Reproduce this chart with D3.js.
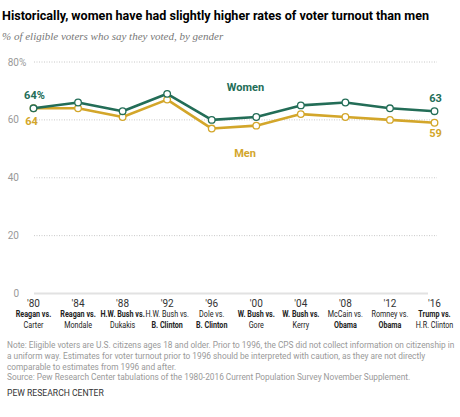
<!DOCTYPE html>
<html>
<head>
<meta charset="utf-8">
<script src="https://cdn.jsdelivr.net/npm/d3@7"></script>
<style>
  body { margin: 0; background: #fff; }
  svg { display: block; }
</style>
</head>
<body>
<svg id="chart" width="460" height="417"></svg>
<script>
// Election years and candidate pairs (winner in bold)
const years = ["'80", "'84", "'88", "'92", "'96", "'00", "'04", "'08", "'12", "'16"];
const matchups = [
    [["Reagan vs.", true], ["Carter", false]],
    [["Reagan vs.", true], ["Mondale", false]],
    [["H.W. Bush vs.", true], ["Dukakis", false]],
    [["H.W. Bush vs.", false], ["B. Clinton", true]],
    [["Dole vs.", false], ["B. Clinton", true]],
    [["W. Bush vs.", true], ["Gore", false]],
    [["W. Bush vs.", true], ["Kerry", false]],
    [["McCain vs.", false], ["Obama", true]],
    [["Romney vs.", false], ["Obama", true]],
    [["Trump vs.", true], ["H.R. Clinton", false]]
];
const women = [64, 66, 63, 69, 60, 61, 65, 66, 64, 63];
const men = [64, 64, 61, 67, 57, 58, 62, 61, 60, 59];
const yTicks = [0, 20, 40, 60, 80];

const notes = [
    "Note: Eligible voters are U.S. citizens ages 18 and older. Prior to 1996, the CPS did not collect information on citizenship in",
    "a uniform way. Estimates for voter turnout prior to 1996 should be interpreted with caution, as they are not directly",
    "comparable to estimates from 1996 and after.",
    "Source: Pew Research Center tabulations of the 1980-2016 Current Population Survey November Supplement."
];

const green = "#236d57", gold = "#d3a62a";
const sans = "Roboto, 'Liberation Sans', sans-serif";

const svg = d3.select("#chart");

// Title, fitted to the reference width
svg.append("text").attr("x", 2).attr("y", 20)
    .attr("textLength", 427).attr("lengthAdjust", "spacingAndGlyphs")
    .style("font-family", sans).style("font-weight", "700").style("font-size", "12.8px")
    .attr("fill", "#000")
    .text("Historically, women have had slightly higher rates of voter turnout than men");

svg.append("text").attr("x", 2).attr("y", 40)
    .style("font-family", "'Liberation Serif', Georgia, serif").style("font-style", "italic")
    .style("font-size", "11px").attr("fill", "#777")
    .text("% of eligible voters who say they voted, by gender");

// Scales
const x = d3.scalePoint().domain(years).range([33.5, 434.5]);
const y = d3.scaleLinear().domain([0, 80]).range([293.5, 62]);

// Gridlines + y labels (numbers right-aligned, "%" hanging on the top one)
const grid = svg.append("g");
yTicks.forEach(t => {
    grid.append("line")
        .attr("x1", 34).attr("x2", t === 0 ? 428 : 437)
        .attr("y1", y(t)).attr("y2", y(t))
        .attr("stroke", t === 0 ? "#e2e2e2" : "#c8c8c8")
        .attr("stroke-width", t === 0 ? 2 : 1)
        .attr("stroke-dasharray", t === 0 ? null : "1,1.5");
    grid.append("text")
        .attr("x", 19).attr("y", y(t)).attr("dy", "0.35em")
        .attr("text-anchor", "end")
        .style("font-family", sans).style("font-size", "10px")
        .attr("fill", "#999")
        .text(t);
    if (t === 80) grid.append("text").attr("x", 19).attr("y", y(t)).attr("dy", "0.35em")
        .style("font-family", sans).style("font-size", "10px").attr("fill", "#999").text("%");
});

// X axis labels
const xAxis = svg.append("g");
years.forEach((yr, i) => {
    const cx = x(yr);
    xAxis.append("text").attr("x", cx).attr("y", 306.5)
        .attr("text-anchor", "middle")
        .style("font-family", sans).style("font-size", "10px").attr("fill", "#333")
        .text(yr);
    const g = xAxis.append("g").attr("transform", `translate(${cx},0) scale(0.8,1)`);
    matchups[i].forEach((m, j) => {
        g.append("text").attr("x", 0).attr("y", 317.5 + j * 10.6)
            .attr("text-anchor", "middle")
            .style("font-family", sans).style("font-size", "9px")
            .style("font-weight", m[1] ? "700" : "400")
            .attr("fill", "#222")
            .text(m[0]);
    });
});

// Lines
const line = d3.line().x((d, i) => x(years[i])).y(d => y(d));
[[men, gold], [women, green]].forEach(([vals, col]) => {
    svg.append("path").datum(vals)
        .attr("d", line).attr("fill", "none")
        .attr("stroke", col).attr("stroke-width", 2.6)
        .attr("stroke-linejoin", "round");
    svg.append("g").selectAll("circle").data(vals).join("circle")
        .attr("cx", (d, i) => x(years[i])).attr("cy", d => y(d))
        .attr("r", 3.3).attr("fill", "#fff")
        .attr("stroke", col).attr("stroke-width", 1.3);
});

// Series labels
const lab = (txt, xp, yp, col, anchor) => svg.append("text")
    .attr("x", xp).attr("y", yp).attr("text-anchor", anchor || "middle")
    .attr("dy", "0.35em")
    .style("font-family", sans).style("font-weight", "700").style("font-size", "11px")
    .attr("fill", col).text(txt);
lab("Women", 245.5, 87, green);
lab("Men", 245, 153, gold);
lab("64%", x(years[0]) + 1, y(women[0]) - 13, green);
lab("64", x(years[0]) - 2, y(men[0]) + 12.5, gold);
lab(women[9], x(years[9]) + 1, y(women[9]) - 13, green);
lab(men[9], x(years[9]) + 1, y(men[9]) + 10.5, gold);

// Notes
notes.forEach((t, i) => {
    svg.append("text").attr("x", 7).attr("y", 348 + i * 10.8)
        .style("font-family", sans).style("font-size", "8.3px").attr("fill", "#999")
        .text(t);
});
svg.append("text").attr("x", 7).attr("y", 396)
    .style("font-family", sans).style("font-size", "8.6px").attr("fill", "#333")
    .text("PEW RESEARCH CENTER");
</script>
</body>
</html>
